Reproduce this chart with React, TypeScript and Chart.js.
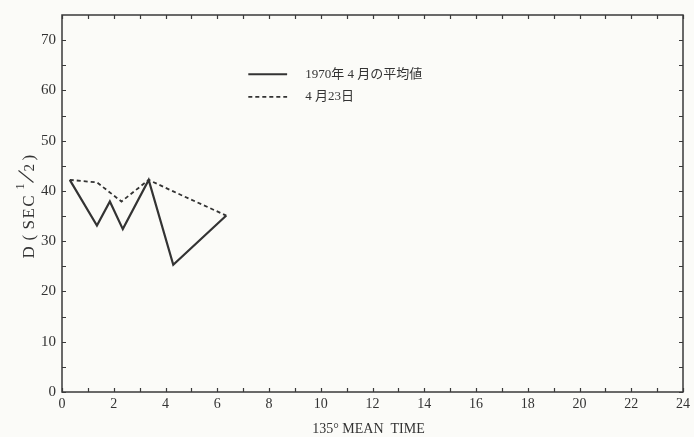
import React, { useEffect, useRef } from "react";
import { Chart, registerables } from "chart.js";

Chart.register(...registerables);

// Monthly mean (April 1970)
const MEAN_X = [0.3, 1.35, 1.85, 2.35, 3.35, 4.3, 6.35];
const MEAN_Y = [42.2, 33.1, 37.9, 32.4, 42.2, 25.3, 35.1];
// April 23
const D23_X = [0.3, 1.35, 2.3, 3.35, 4.3, 6.35];
const D23_Y = [42.2, 41.7, 37.9, 42.2, 39.9, 35.1];

const X_TICKS = [0, 2, 4, 6, 8, 10, 12, 14, 16, 18, 20, 22, 24];
const X_MINOR = [1, 3, 5, 7, 9, 11, 13, 15, 17, 19, 21, 23];
const Y_TICKS = [0, 10, 20, 30, 40, 50, 60, 70];
const Y_MINOR = [5, 15, 25, 35, 45, 55, 65];

const LEGEND_LABELS = ["1970年 4 月の平均値", "4 月23日"];
const X_TITLE = "135° MEAN  TIME";

const SERIF = "'Liberation Serif', 'DejaVu Serif', serif";
const INK = "#333333";

const framePlugin = {
  id: "frameTicks",
  afterDraw(chart: any) {
    const { ctx, chartArea, scales } = chart;
    const { left, right, top, bottom } = chartArea;
    const x = scales.x;
    const y = scales.y;
    ctx.save();
    ctx.strokeStyle = "#3a3a3a";
    ctx.lineWidth = 1.5;
    ctx.strokeRect(left, top, right - left, bottom - top);
    ctx.lineWidth = 1.2;
    ctx.beginPath();
    const tl = 4;
    [...X_TICKS, ...X_MINOR].forEach((v) => {
      const px = Math.round(x.getPixelForValue(v)) + 0.5;
      ctx.moveTo(px, bottom);
      ctx.lineTo(px, bottom - tl);
      ctx.moveTo(px, top);
      ctx.lineTo(px, top + tl);
    });
    [...Y_TICKS, ...Y_MINOR].forEach((v) => {
      const py = Math.round(y.getPixelForValue(v)) + 0.5;
      ctx.moveTo(left, py);
      ctx.lineTo(left + tl, py);
      ctx.moveTo(right, py);
      ctx.lineTo(right - tl, py);
    });
    ctx.stroke();

    // legend
    const lx0 = x.getPixelForValue(7.2);
    const lx1 = x.getPixelForValue(8.7);
    const tx = x.getPixelForValue(9.4);
    const ly1 = y.getPixelForValue(63.2);
    const ly2 = y.getPixelForValue(58.7);
    ctx.strokeStyle = INK;
    ctx.lineWidth = 2;
    ctx.setLineDash([]);
    ctx.beginPath();
    ctx.moveTo(lx0, ly1);
    ctx.lineTo(lx1, ly1);
    ctx.stroke();
    ctx.lineWidth = 1.8;
    ctx.setLineDash([4, 3]);
    ctx.beginPath();
    ctx.moveTo(lx0, ly2);
    ctx.lineTo(lx1, ly2);
    ctx.stroke();
    ctx.setLineDash([]);
    ctx.fillStyle = INK;
    ctx.font = "13px 'Liberation Serif', 'Noto Sans CJK JP', serif";
    ctx.textAlign = "left";
    ctx.textBaseline = "middle";
    ctx.fillText(LEGEND_LABELS[0], tx, ly1);
    ctx.fillText(LEGEND_LABELS[1], tx, ly2);

    // x title
    ctx.font = `14px ${SERIF}`;
    ctx.textAlign = "center";
    ctx.textBaseline = "alphabetic";
    const cx = (left + right) / 2 - 4;
    ctx.fillText(X_TITLE, cx, bottom + 41);

    // y title: D (SEC^{1/2})
    const cy = (top + bottom) / 2;
    ctx.translate(33.5, cy);
    ctx.rotate(-Math.PI / 2);
    ctx.textAlign = "left";
    const s0 = -55;
    ctx.font = `17px ${SERIF}`;
    ctx.fillText("D", s0, 0);
    ctx.fillText("(", s0 + 18, 0);
    (ctx as any).letterSpacing = "1.5px";
    ctx.fillText("SEC", s0 + 29, 0);
    (ctx as any).letterSpacing = "0px";
    ctx.font = `12px ${SERIF}`;
    ctx.fillText("1", s0 + 69, -10);
    ctx.lineWidth = 1.1;
    ctx.beginPath();
    ctx.moveTo(s0 + 76, 0);
    ctx.lineTo(s0 + 88, -15);
    ctx.stroke();
    ctx.font = `15px ${SERIF}`;
    ctx.fillText("2", s0 + 87, 0);
    ctx.font = `17px ${SERIF}`;
    ctx.fillText(")", s0 + 98, 0);
    ctx.restore();
  },
};

export default function App() {
  const ref = useRef<HTMLCanvasElement | null>(null);

  useEffect(() => {
    document.body.style.margin = "0";
    const canvas = ref.current;
    if (!canvas) return;
    const chart = new Chart(canvas, {
      type: "line",
      data: {
        datasets: [
          {
            label: LEGEND_LABELS[0],
            data: MEAN_X.map((v, i) => ({ x: v, y: MEAN_Y[i] })),
            borderColor: INK,
            borderWidth: 2.2,
            pointRadius: 0,
            tension: 0,
            fill: false,
          },
          {
            label: LEGEND_LABELS[1],
            data: D23_X.map((v, i) => ({ x: v, y: D23_Y[i] })),
            borderColor: INK,
            borderWidth: 1.8,
            borderDash: [4, 3],
            pointRadius: 0,
            tension: 0,
            fill: false,
          },
        ],
      },
      options: {
        animation: false,
        responsive: false,
        layout: { padding: { top: 8, right: 7, left: 0, bottom: 0 } },
        plugins: { legend: { display: false }, tooltip: { enabled: false }, title: { display: false } },
        scales: {
          x: {
            type: "linear",
            min: 0,
            max: 24,
            grid: { display: false, drawTicks: false },
            border: { display: false },
            afterBuildTicks: (s: any) => {
              s.ticks = X_TICKS.map((v) => ({ value: v }));
            },
            afterFit: (s: any) => {
              s.height = 45;
            },
            ticks: {
              padding: 4,
              maxRotation: 0,
              autoSkip: false,
              color: INK,
              font: { family: SERIF, size: 14 },
            },
          },
          y: {
            type: "linear",
            min: 0,
            max: 75,
            grid: { display: false, drawTicks: false },
            border: { display: false },
            afterBuildTicks: (s: any) => {
              s.ticks = Y_TICKS.map((v) => ({ value: v }));
            },
            afterFit: (s: any) => {
              s.width = 62;
            },
            ticks: {
              padding: 6,
              color: INK,
              font: { family: SERIF, size: 15 },
            },
          },
        },
      },
      plugins: [framePlugin],
    });
    return () => chart.destroy();
  }, []);

  return (
    <div style={{ width: 694, height: 437, background: "#fbfbf8" }}>
      <canvas ref={ref} width={694} height={437} style={{ display: "block" }} />
    </div>
  );
}
